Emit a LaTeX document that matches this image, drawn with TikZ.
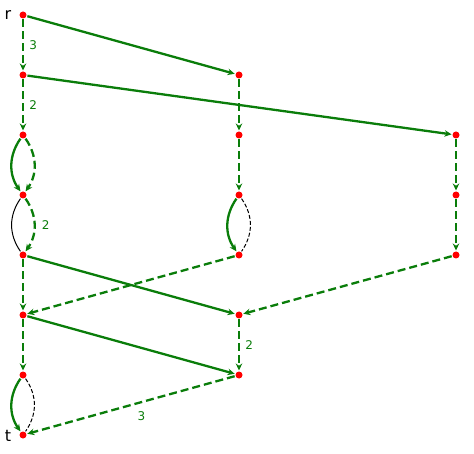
\documentclass[tikz,border=0pt]{standalone}
\usepackage{fontspec}
\setmainfont{DejaVu Sans}
\usetikzlibrary{arrows.meta}
\definecolor{eg}{RGB}{10,125,10}
\begin{document}
\begin{tikzpicture}[x=1pt,y=-1pt,
  v/.style={circle,fill=red,inner sep=0pt,minimum size=7pt,outer sep=1pt},
  ge/.style={draw=eg,line width=2.3pt,-{Stealth[length=7pt,width=6.5pt]}},
  gd/.style={ge,dash pattern=on 8pt off 4pt},
  bk/.style={draw=black,line width=1pt},
  bkd/.style={bk,dash pattern=on 4pt off 2pt},
  lab/.style={text=eg,font=\fontsize{12}{14}\selectfont},
  big/.style={font=\fontsize{16}{18}\selectfont}]
\useasboundingbox (0,0) rectangle (474,454);
% left column
\node[v] (a1) at (23,15) {};
\node[v] (a2) at (23,75) {};
\node[v] (a3) at (23,135) {};
\node[v] (a4) at (23,195) {};
\node[v] (a5) at (23,255) {};
\node[v] (a6) at (23,315) {};
\node[v] (a7) at (23,375) {};
\node[v] (a8) at (23,435) {};
% middle column
\node[v] (b1) at (239,75) {};
\node[v] (b2) at (239,135) {};
\node[v] (b3) at (239,195) {};
\node[v] (b4) at (239,255) {};
\node[v] (b5) at (239,315) {};
\node[v] (b6) at (239,375) {};
% right column
\node[v] (c1) at (456,135) {};
\node[v] (c2) at (456,195) {};
\node[v] (c3) at (456,255) {};
% labels
\node[big] (lr) at (8,15) {r};
\node[big] (lt) at (8,436) {t};
% edges
\draw[gd] (a1) -- node[lab,right,xshift=2pt] {3} (a2);
\draw[ge] (a1) -- (b1);
\draw[gd] (a2) -- node[lab,right,xshift=2pt] {2} (a3);
\draw[ge] (a2) -- (c1);
\draw[ge] (a3) to[bend right=35] (a4);
\draw[gd] (a3) to[bend left=35] (a4);
\draw[bk] (a4) to[bend right=35] (a5);
\draw[gd] (a4) to[bend left=35] node[lab,right,xshift=3pt] {2} (a5);
\draw[gd] (a5) -- (a6);
\draw[ge] (a5) -- (b5);
\draw[gd] (b1) -- (b2);
\draw[gd] (b2) -- (b3);
\draw[ge] (b3) to[bend right=35] (b4);
\draw[bkd] (b3) to[bend left=35] (b4);
\draw[gd] (b4) -- (a6);
\draw[gd] (c1) -- (c2);
\draw[gd] (c2) -- (c3);
\draw[gd] (c3) -- (b5);
\draw[gd] (a6) -- (a7);
\draw[ge] (a6) -- (b6);
\draw[gd] (b5) -- node[lab,right,xshift=2pt] {2} (b6);
\draw[gd] (b6) -- node[lab,below,pos=0.45,yshift=-5pt] {3} (a8);
\draw[ge] (a7) to[bend right=35] (a8);
\draw[bkd] (a7) to[bend left=35] (a8);
\end{tikzpicture}
\end{document}
